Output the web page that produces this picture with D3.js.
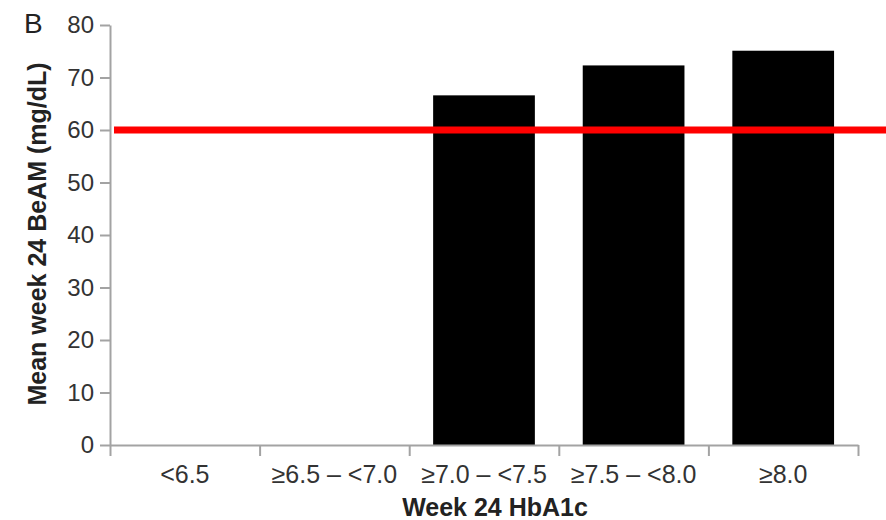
<!DOCTYPE html>
<html>
<head>
<meta charset="utf-8">
<script src="https://cdn.jsdelivr.net/npm/d3@7"></script>
<style>
  body { margin: 0; background: #fff; }
  text { font-family: "Liberation Sans", Arial, sans-serif; }
</style>
</head>
<body>
<div id="chart"></div>
<script>
// data
const categories = ["<6.5", "≥6.5 – <7.0", "≥7.0 – <7.5", "≥7.5 – <8.0", "≥8.0"];
const beamValues = [null, null, 66.6, 72.3, 75.1];
const yTicks = [0, 10, 20, 30, 40, 50, 60, 70, 80];
const targetLine = 60;

const W = 886, H = 520;
const margin = { top: 25, right: 28, bottom: 75, left: 110 };
const width = W - margin.left - margin.right,
    height = H - margin.top - margin.bottom;

const axisColor = "#a3a3a3";

const svg = d3.select("#chart")
    .append("svg")
    .attr("width", W)
    .attr("height", H);

const g = svg.append("g")
    .attr("transform", `translate(${margin.left},${margin.top})`);

const x = d3.scaleBand()
    .domain(categories)
    .range([0, width])
    .padding(0);

const y = d3.scaleLinear()
    .domain([0, 80])
    .range([height, 0]);

// bars
const barFrac = 0.68;
g.selectAll("rect.bar")
    .data(categories.map((c, i) => ({ c, v: beamValues[i] })).filter(d => d.v != null))
    .enter().append("rect")
    .attr("class", "bar")
    .attr("x", d => x(d.c) + x.bandwidth() * (1 - barFrac) / 2)
    .attr("width", x.bandwidth() * barFrac)
    .attr("y", d => y(d.v))
    .attr("height", d => y(0) - y(d.v))
    .attr("fill", "#000");

// x axis: boundary ticks
const xb = d3.scaleLinear().domain([0, categories.length]).range([0, width]);
const xTickAxis = g.append("g")
    .attr("transform", `translate(0,${height})`)
    .call(d3.axisBottom(xb)
        .tickValues(d3.range(categories.length + 1))
        .tickFormat("")
        .tickSize(11)
        .tickSizeOuter(0));
xTickAxis.selectAll("path, line").attr("stroke", axisColor).attr("stroke-width", 2);

// x axis labels
const xLabelAxis = g.append("g")
    .attr("transform", `translate(0,${height})`)
    .call(d3.axisBottom(x).tickSize(0).tickPadding(20));
xLabelAxis.select(".domain").remove();
xLabelAxis.selectAll("text")
    .attr("font-size", 25)
    .attr("font-family", "Liberation Sans, Arial, sans-serif")
    .attr("fill", "#333");

// y axis
const yAxis = g.append("g")
    .call(d3.axisLeft(y)
        .tickValues(yTicks)
        .tickSize(10)
        .tickSizeOuter(0)
        .tickPadding(6));
yAxis.selectAll("path, line").attr("stroke", axisColor).attr("stroke-width", 2);
yAxis.selectAll("text")
    .attr("font-size", 24)
    .attr("font-family", "Liberation Sans, Arial, sans-serif")
    .attr("fill", "#333");

// target line at 60 mg/dL
g.append("line")
    .attr("x1", 4)
    .attr("x2", W - margin.left)
    .attr("y1", y(targetLine))
    .attr("y2", y(targetLine))
    .attr("stroke", "#ff0000")
    .attr("stroke-width", 7);

// axis titles
svg.append("text")
    .attr("x", 495)
    .attr("y", 516)
    .attr("text-anchor", "middle")
    .attr("font-size", 25)
    .attr("font-weight", "bold")
    .attr("fill", "#222")
    .text("Week 24 HbA1c");

svg.append("text")
    .attr("transform", `translate(46,234) rotate(-90)`)
    .attr("text-anchor", "middle")
    .attr("font-size", 25)
    .attr("font-weight", "bold")
    .attr("fill", "#222")
    .text("Mean week 24 BeAM (mg/dL)");

// panel letter
svg.append("text")
    .attr("x", 24)
    .attr("y", 33)
    .attr("font-size", 28)
    .attr("fill", "#222")
    .text("B");
</script>
</body>
</html>
